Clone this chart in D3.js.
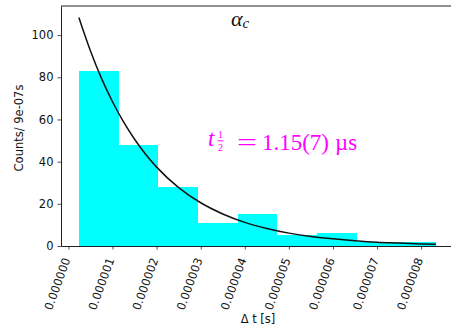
<!DOCTYPE html>
<html>
<head>
<meta charset="utf-8">
<script src="https://cdn.jsdelivr.net/npm/d3@7"></script>
<style>
  body { margin: 0; background: #fff; }
  svg { display: block; }
  .tick text { font-family: "DejaVu Sans", sans-serif; font-size: 11.5px; fill: #111; }
  .axis-label { font-family: "DejaVu Sans", sans-serif; font-size: 11.5px; fill: #111; }
</style>
</head>
<body>
<div id="chart"></div>
<script>
// histogram: bin edges in µs (width 0.9 µs) and counts per bin
const binEdges = [0.236, 1.136, 2.036, 2.936, 3.836, 4.736, 5.636, 6.536, 7.436, 8.336];
const counts = [83, 48, 28, 11, 15, 5, 6, 2, 2];

// fitted decay curve (t in µs, counts)
const fitT = [0.236, 0.5, 0.75, 1.0, 1.25, 1.5, 1.75, 2.0, 2.5, 3.0, 3.5, 4.0, 4.5, 5.0, 5.5, 6.0, 6.5, 7.0, 7.5, 8.0, 8.336];
const fitV = [108.4, 92.5, 79.5, 68.4, 58.8, 50.6, 43.5, 37.4, 27.7, 20.5, 15.2, 11.2, 8.3, 6.1, 4.5, 3.4, 2.5, 1.8, 1.4, 1.0, 0.8];

const xTicks = [0, 1, 2, 3, 4, 5, 6, 7, 8];
const yTicks = [0, 20, 40, 60, 80, 100];

const W = 451, H = 331;
const margin = {top: 6, left: 61, bottom: 85};
const plotRight = 453.8;

const svg = d3.select("#chart").append("svg")
    .attr("width", W)
    .attr("height", H);

const x = d3.scaleLinear().domain([-0.169, 8.741]).range([margin.left, plotRight]);
const y = d3.scaleLinear().domain([0, 113.8]).range([H - margin.bottom, margin.top]);

// bars
const bins = counts.map((c, i) => ({x0: binEdges[i], x1: binEdges[i + 1], c: c}));
svg.append("g").selectAll("rect").data(bins).enter()
    .append("rect")
    .attr("x", d => x(d.x0))
    .attr("width", d => x(d.x1) - x(d.x0))
    .attr("y", d => y(d.c))
    .attr("height", d => y(0) - y(d.c))
    .attr("fill", "#00ffff")
    .attr("shape-rendering", "crispEdges");

// fit curve
const line = d3.line()
    .x((d, i) => x(fitT[i]))
    .y(d => y(d))
    .curve(d3.curveMonotoneX);
svg.append("path")
    .datum(fitV)
    .attr("d", line)
    .attr("fill", "none")
    .attr("stroke", "#111")
    .attr("stroke-width", 1.5);

// axes
const xAxis = svg.append("g")
    .attr("transform", `translate(0,${y(0)})`)
    .call(d3.axisBottom(x).tickValues(xTicks).tickSize(3.5).tickSizeOuter(0)
        .tickFormat(d => (d * 1e-6).toFixed(6)));
xAxis.selectAll(".tick text")
    .attr("text-anchor", "end")
    .attr("dy", null)
    .attr("y", 0)
    .attr("transform", "translate(1.5,13.5) rotate(-70)");

const yAxis = svg.append("g")
    .attr("transform", `translate(${margin.left},0)`)
    .call(d3.axisLeft(y).tickValues(yTicks).tickSize(3.5).tickSizeOuter(0).tickPadding(4));

svg.selectAll(".domain").attr("stroke", "#222").attr("stroke-width", 1);
svg.selectAll(".tick line").attr("stroke", "#222").attr("stroke-width", 0.8);

// top spine
svg.append("line")
    .attr("x1", margin.left).attr("x2", plotRight)
    .attr("y1", margin.top).attr("y2", margin.top)
    .attr("stroke", "#222").attr("stroke-width", 1);

// axis labels
svg.append("text")
    .attr("class", "axis-label")
    .attr("transform", `translate(23,${(margin.top + y(0)) / 2 + 2}) rotate(-90)`)
    .attr("text-anchor", "middle")
    .text("Counts/ 9e-07s");

svg.append("text")
    .attr("class", "axis-label")
    .attr("x", 258)
    .attr("y", 322.5)
    .attr("text-anchor", "middle")
    .text("Δ t [s]");

// title alpha_c
const title = svg.append("text")
    .attr("x", 231).attr("y", 26)
    .attr("font-family", "Liberation Serif, serif")
    .attr("font-style", "italic")
    .attr("fill", "#111");
title.append("tspan").attr("font-size", "22px").text("α");
title.append("tspan").attr("font-size", "15px").attr("dy", 2).text("c");

// half-life annotation
const ann = svg.append("g")
    .attr("fill", "#ff00ff")
    .attr("font-family", "Liberation Serif, serif");
ann.append("text")
    .attr("x", 208).attr("y", 146)
    .attr("font-size", "23px").attr("font-style", "italic")
    .text("t");
ann.append("text")
    .attr("x", 220.5).attr("y", 138)
    .attr("font-size", "10px").attr("text-anchor", "middle")
    .text("1");
ann.append("line")
    .attr("x1", 217.5).attr("x2", 223.5)
    .attr("y1", 140.8).attr("y2", 140.8)
    .attr("stroke", "#ff00ff").attr("stroke-width", 0.9);
ann.append("text")
    .attr("x", 220.5).attr("y", 150.5)
    .attr("font-size", "10px").attr("text-anchor", "middle")
    .text("2");
ann.append("text")
    .attr("x", 237).attr("y", 150)
    .attr("font-size", "23px")
    .attr("textLength", 20).attr("lengthAdjust", "spacingAndGlyphs")
    .text("=");
ann.append("text")
    .attr("x", 262).attr("y", 150)
    .attr("font-size", "23px")
    .attr("textLength", 67).attr("lengthAdjust", "spacingAndGlyphs")
    .text("1.15(7)");
ann.append("text")
    .attr("x", 335).attr("y", 150)
    .attr("font-size", "23px")
    .attr("textLength", 22).attr("lengthAdjust", "spacingAndGlyphs")
    .text("µs");
</script>
</body>
</html>
